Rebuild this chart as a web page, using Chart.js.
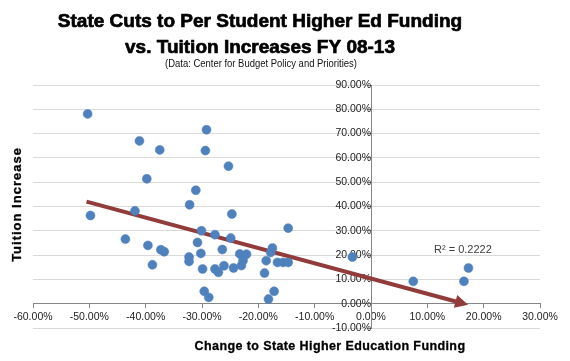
<!DOCTYPE html>
<html><head><meta charset="utf-8">
<script src="https://cdn.jsdelivr.net/npm/chart.js@4.4.1/dist/chart.umd.min.js"></script>
<style>html,body{margin:0;padding:0;background:#fff}#wrap{width:570px;height:361px;position:relative}</style>
</head><body><div id="wrap"><canvas id="c" width="570" height="361"></canvas></div>
<script>
// Change to state higher-ed funding per student (%), FY08-13
const fundingChange = [-50.3,-41.1,-37.5,-39.8,-31.1,-32.2,-49.8,-41.9,-29.2,-29.4,-25.3,-24.7,
  -43.6,-39.6,-38.8,-37.3,-36.7,-32.3,-32.3,-30.8,-30.2,-29.9,-30.1,-27.7,-24.9,-26.4,-27.7,
  -27.1,-26.1,-24.4,-23.3,-22.1,-22.7,-23.0,-29.6,-28.8,-14.7,-17.5,-17.8,-18.6,-18.9,-16.6,
  -15.6,-14.7,-17.2,-18.2,-3.3,7.5,16.5,17.3];
// Tuition increase (%)
const tuitionIncrease = [78.1,67.0,63.3,51.4,46.7,40.7,36.3,38.2,71.6,63.0,56.6,36.9,
  26.6,24.0,16.0,22.2,21.4,19.2,17.4,25.2,20.7,14.3,30.0,28.4,27.0,22.3,14.3,
  12.9,15.6,14.7,20.5,20.4,17.8,15.7,5.1,2.6,31.1,22.9,21.1,17.7,12.6,17.0,
  17.0,17.0,5.1,1.9,19.2,9.2,9.2,14.7];
// Linear trendline, start and arrow end
const trendX = [-50.5, 15.9];
const trendY = [42.0, 0.4];
const rSquaredLabel = 'R\u00B2 = 0.2222';
const xTicks = [-60,-50,-40,-30,-20,-10,0,10,20,30];
const yTicks = [-10,0,10,20,30,40,50,60,70,80,90];
const titleLines = ['State Cuts to Per Student Higher Ed Funding', 'vs. Tuition Increases FY 08-13'];
const subtitle = '(Data: Center for Budget Policy and Priorities)';
const xTitle = 'Change to State Higher Education Funding';
const yTitle = 'Tuition Increase';

const pts = fundingChange.map((x,i)=>({x, y: tuitionIncrease[i]}));
const trend = trendX.map((x,i)=>({x, y: trendY[i]}));
const TREND_COLOR = '#923B3B';
const pct = v => Number(v).toFixed(2) + '%';

const decor = {
  id: 'decor',
  afterDatasetsDraw(chart) {
    const ctx = chart.ctx, xs = chart.scales.x, ys = chart.scales.y;
    const n = trend.length;
    const x1 = xs.getPixelForValue(trend[n-2].x), y1 = ys.getPixelForValue(trend[n-2].y);
    const x2 = xs.getPixelForValue(trend[n-1].x), y2 = ys.getPixelForValue(trend[n-1].y);
    const len = Math.hypot(x2-x1, y2-y1), ux = (x2-x1)/len, uy = (y2-y1)/len;
    const L = 13, hw = 6.5;
    const tx = x2 + ux*L*0.6, ty = y2 + uy*L*0.6;
    const bx = tx - ux*L, by = ty - uy*L;
    ctx.save();
    ctx.fillStyle = TREND_COLOR;
    ctx.beginPath();
    ctx.moveTo(tx, ty);
    ctx.lineTo(bx - uy*hw, by + ux*hw);
    ctx.lineTo(bx + uy*hw, by - ux*hw);
    ctx.closePath();
    ctx.fill();
    ctx.restore();
  },
  afterDraw(chart) {
    const ctx = chart.ctx;
    ctx.save();
    ctx.fillStyle = '#000';
    ctx.strokeStyle = '#000';
    ctx.lineWidth = 0.7;
    ctx.lineJoin = 'round';
    ctx.textAlign = 'center';
    ctx.textBaseline = 'alphabetic';
    ctx.font = 'bold 19px "Liberation Sans", Arial, sans-serif';
    ctx.fillText(titleLines[0], 260, 26.5);
    ctx.strokeText(titleLines[0], 260, 26.5);
    ctx.fillText(titleLines[1], 260, 52.5);
    ctx.strokeText(titleLines[1], 260, 52.5);
    // subtitle
    ctx.font = '10.5px "Liberation Sans Narrow", "Liberation Sans", Arial, sans-serif';
    const w = ctx.measureText(subtitle).width;
    const target = 192;
    ctx.save();
    ctx.translate(261, 66.5);
    ctx.scale(target / w, 1);
    ctx.fillStyle = '#111';
    ctx.fillText(subtitle, 0, 0);
    ctx.restore();
    // x axis title
    ctx.font = 'bold 12.5px "Liberation Sans", Arial, sans-serif';
    try { ctx.letterSpacing = '0.4px'; } catch(e) {}
    ctx.textBaseline = 'middle';
    ctx.lineWidth = 0.3;
    ctx.fillText(xTitle, 330, 347);
    ctx.strokeText(xTitle, 330, 347);
    // y axis title
    ctx.save();
    ctx.translate(17, 204.5);
    ctx.rotate(-Math.PI/2);
    ctx.font = 'bold 13px "Liberation Sans", Arial, sans-serif';
    try { ctx.letterSpacing = '1px'; } catch(e) {}
    ctx.fillText(yTitle, 0, 0);
    ctx.strokeText(yTitle, 0, 0);
    ctx.restore();
    try { ctx.letterSpacing = '0px'; } catch(e) {}
    // R squared
    ctx.font = '11px "Liberation Sans", Arial, sans-serif';
    ctx.fillStyle = '#404040';
    ctx.textAlign = 'left';
    ctx.textBaseline = 'alphabetic';
    ctx.fillText(rSquaredLabel, 434, 252.5);
    ctx.restore();
  }
};

new Chart(document.getElementById('c'), {
  type: 'scatter',
  data: {
    datasets: [
      { label: 'States', data: pts, order: 1,
        backgroundColor: '#4F81BD', borderColor: '#4A7EBB', borderWidth: 0.5,
        pointRadius: 4.5, pointHoverRadius: 4.5 },
      { label: 'Trend', data: trend, order: 2, showLine: true,
        borderColor: TREND_COLOR, borderWidth: 4, pointRadius: 0, borderCapStyle: 'butt' }
    ]
  },
  options: {
    responsive: false,
    animation: false,
    devicePixelRatio: 1,
    layout: { padding: { left: 33, right: 30, top: 85, bottom: 33 } },
    plugins: { legend: { display: false }, tooltip: { enabled: false }, title: { display: false } },
    scales: {
      x: {
        type: 'linear', min: -60, max: 30, position: { y: 0 },
        afterBuildTicks: s => { s.ticks = xTicks.map(v => ({ value: v })); },
        ticks: { callback: pct, font: { family: '"Liberation Sans", Arial, sans-serif', size: 10.5 },
                 color: '#222', padding: 3, maxRotation: 0, autoSkip: false },
        grid: { drawOnChartArea: false, drawTicks: true, tickLength: 4, color: '#868686' },
        border: { display: true, color: '#868686', width: 1 }
      },
      y: {
        type: 'linear', min: -10, max: 90, position: { x: 0 },
        afterBuildTicks: s => { s.ticks = yTicks.map(v => ({ value: v })); },
        ticks: { callback: pct, font: { family: '"Liberation Sans", Arial, sans-serif', size: 10.5 },
                 color: '#222', padding: 5, autoSkip: false },
        grid: { drawOnChartArea: true, drawTicks: true, tickLength: 4, color: '#D9D9D9', tickColor: '#868686' },
        border: { display: true, color: '#868686', width: 1 }
      }
    }
  },
  plugins: [decor]
});
</script>
</body></html>
